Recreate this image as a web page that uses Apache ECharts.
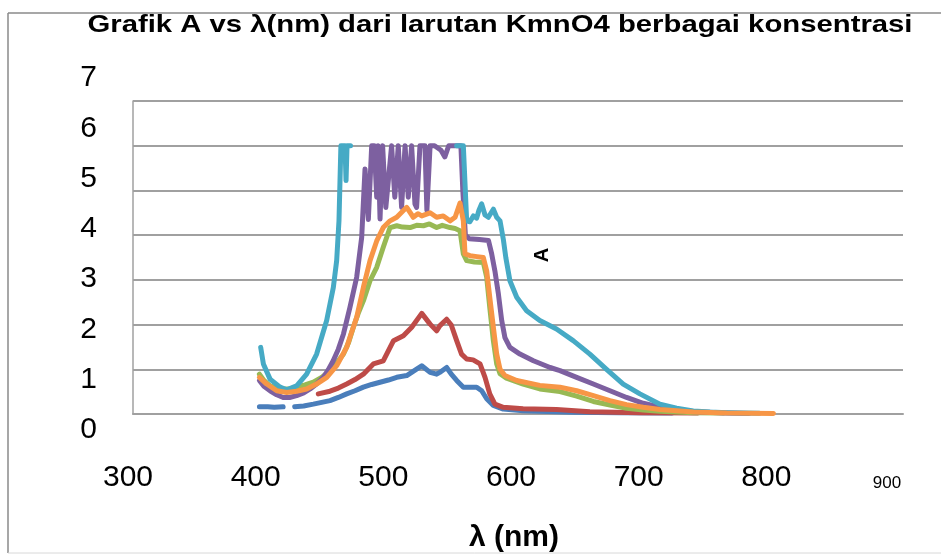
<!DOCTYPE html>
<html><head><meta charset="utf-8">
<script src="https://cdn.jsdelivr.net/npm/echarts@6/dist/echarts.min.js"></script>
<style>html,body{margin:0;padding:0;background:#fff}#c{width:941px;height:556px}</style>
</head><body><div id="c"></div><script>
// wavelength ticks and absorbance ticks
const xTicks = [300, 400, 500, 600, 700, 800, 900];
const yTicks = [0, 1, 2, 3, 4, 5, 6, 7];
const seriesNames = ['s1', 's2', 's3', 's4', 's5', 's6'];

// [lambda (nm), A]
const blue = [[398.5,0.16],[405,0.16],[410,0.15],[417,0.16],[421,null],[426,0.16],[433,0.18],[440.5,0.22],[447,0.26],[453.5,0.3],[460,0.37],[466.5,0.45],[473,0.52],[479.5,0.6],[486,0.66],[492.5,0.71],[499,0.76],[505.5,0.82],[513.3,0.86],[519.8,0.98],[525,1.08],[531.5,0.93],[536.6,0.89],[539,0.93],[544.4,1.04],[548,0.89],[552.2,0.75],[557.4,0.6],[562.6,0.6],[567.8,0.6],[571.7,0.52],[575.6,0.34],[580.8,0.19],[588.5,0.11],[604,0.07],[643,0.04],[680,0.03],[720,0.02]];
const red = [[444.4,0.45],[453.5,0.51],[460,0.58],[466.5,0.67],[473,0.77],[479.5,0.89],[487.3,1.12],[495,1.19],[503,1.64],[510.7,1.75],[517.2,1.94],[525,2.25],[531.5,2.01],[536.6,1.86],[539,1.97],[544.4,2.12],[548,1.99],[552.2,1.64],[556,1.34],[560,1.23],[565,1.21],[570.4,1.12],[574.3,0.82],[578,0.45],[582,0.22],[588.5,0.15],[604,0.12],[630,0.1],[656,0.05],[695,0.03],[740,0.02]];
const green = [[398.5,0.89],[402,0.75],[406.8,0.63],[412,0.58],[417,0.56],[422,0.56],[427.5,0.6],[434,0.65],[440.5,0.71],[447,0.82],[453.5,0.97],[459,1.15],[464,1.34],[468,1.6],[471.7,1.94],[475.5,2.25],[479.5,2.53],[484.7,2.98],[489.9,3.28],[495,3.73],[500.3,4.17],[505.5,4.21],[510,4.18],[515.9,4.17],[521,4.22],[526.3,4.21],[531,4.25],[536.6,4.17],[541,4.22],[547,4.17],[551,4.15],[554.8,4.1],[557.4,3.58],[560,3.43],[566,3.4],[573,3.39],[575.6,3.06],[578,2.38],[580.8,1.64],[583.4,1.12],[586,0.9],[591,0.8],[604,0.67],[617,0.56],[632.7,0.5],[645.7,0.4],[658.7,0.28],[671.7,0.2],[684.6,0.13],[697.6,0.09],[710.6,0.06],[736.6,0.03],[760,0.02]];
const purple = [[398.5,0.75],[402,0.62],[406.8,0.52],[412,0.43],[417,0.37],[422,0.37],[427.5,0.41],[433,0.47],[438,0.56],[443,0.67],[448.3,0.82],[452,0.98],[456,1.19],[460,1.45],[464,1.79],[469,2.38],[474.3,3.06],[478.2,3.95],[480.8,5.48],[483.4,4.35],[486,6.0],[488,6.0],[489.9,4.85],[491,6.0],[492.5,4.36],[494.5,6.0],[497,4.62],[501.5,6.0],[504,4.85],[506.7,6.0],[509.3,4.62],[512,6.0],[514.5,4.85],[517.1,6.0],[519.7,4.7],[521,4.62],[523.6,6.0],[527.5,6.0],[529,4.55],[531.5,6.0],[535,6.0],[540,5.9],[543,5.75],[546,6.0],[552,6.0],[555.5,6.0],[557,5.0],[559,4.0],[562,3.92],[570,3.9],[577,3.88],[579.5,3.58],[582,3.2],[584.7,2.69],[587.3,2.09],[589.8,1.71],[593.7,1.49],[601.5,1.34],[612,1.19],[625,1.04],[632.7,0.97],[645.7,0.82],[658.7,0.67],[671.7,0.52],[684.6,0.37],[697.6,0.24],[710.6,0.15],[723.6,0.09],[736.6,0.05],[762.6,0.02],[780,0.01]];
const teal = [[399.5,1.49],[401.6,1.12],[406.8,0.78],[414.6,0.6],[419.8,0.54],[427.5,0.63],[435.3,0.89],[443.1,1.34],[450.9,2.09],[456.1,2.83],[458.7,3.43],[460.5,4.32],[461.3,5.22],[462,6.0],[465.2,6.0],[466,5.22],[466.8,6.0],[469.5,6.0],[471,null],[551,null],[552.2,6.0],[557.4,6.0],[560,4.32],[562.5,4.3],[565.2,4.43],[567.8,4.38],[569.5,4.55],[571.7,4.7],[574.3,4.45],[576.9,4.4],[580.8,4.58],[583.4,4.4],[586,4.32],[588.6,3.9],[590.5,3.5],[593.7,2.98],[599,2.61],[606.7,2.31],[617,2.09],[630,1.9],[643,1.64],[656,1.34],[669,1.0],[682,0.67],[695,0.45],[710.6,0.22],[723.6,0.13],[736.6,0.07],[749.6,0.045],[762.6,0.03],[788,0.015]];
const orange = [[398.5,0.82],[404.2,0.67],[412,0.52],[419.8,0.48],[427.5,0.51],[435.3,0.56],[443,0.67],[451,0.82],[458.7,1.08],[466.5,1.49],[470,1.8],[474.3,2.16],[479.5,2.83],[484.7,3.43],[489.9,3.87],[495,4.17],[500.3,4.32],[505.5,4.4],[510.7,4.55],[513.3,4.62],[518.4,4.4],[522,4.48],[525,4.43],[531.5,4.5],[536.6,4.4],[541.8,4.43],[547,4.32],[551,4.4],[554.8,4.72],[557.4,4.32],[558.7,3.58],[562.6,3.54],[568,3.52],[573,3.5],[575.6,3.2],[578,2.61],[580.8,1.94],[583.4,1.34],[586,1.0],[589.8,0.86],[599,0.75],[617,0.64],[632.7,0.6],[645.7,0.52],[658.7,0.41],[671.7,0.3],[684.6,0.21],[697.6,0.15],[710.6,0.1],[736.6,0.045],[762.6,0.02],[799,0.01]];

const dataSets = [blue, red, green, purple, teal, orange];
const colors = ['#4A7EBB', '#BE4B48', '#98B954', '#7D60A0', '#46AAC5', '#F79646'];

const chart = echarts.init(document.getElementById('c'), null, {renderer: 'canvas'});
const FF = '"Liberation Sans", Arial, sans-serif';
chart.setOption({
  animation: false,
  backgroundColor: '#fff',
  grid: [
    {left: 133, right: 38, top: 101, bottom: 142},
    {left: 128, right: 47, top: 78, bottom: 126}
  ],
  xAxis: [
    {gridIndex: 0, type: 'value', min: xTicks[0], max: xTicks[xTicks.length-1], interval: 100,
     axisLine: {show: true, lineStyle: {color: '#a0a0a0', width: 2}}, axisTick: {show: false},
     axisLabel: {show: false}, splitLine: {show: false}},
    {gridIndex: 1, type: 'value', min: xTicks[0], max: xTicks[xTicks.length-1], interval: 100,
     axisLine: {show: false}, axisTick: {show: false}, splitLine: {show: false},
     axisLabel: {margin: 33, fontSize: 30, color: '#000', fontFamily: FF,
       formatter: v => v === 900 ? '{s|900}' : String(v),
       rich: {s: {fontSize: 17, fontFamily: FF, color: '#000', padding: [12, 14, 0, 0]}}}}
  ],
  yAxis: [
    {gridIndex: 0, type: 'value', min: yTicks[0], max: yTicks[yTicks.length-1], interval: 1,
     axisLine: {show: true, lineStyle: {color: '#a0a0a0', width: 1.5}}, axisTick: {show: false},
     axisLabel: {show: false}, splitLine: {show: true, lineStyle: {color: '#a0a0a0', width: 2}}},
    {gridIndex: 1, type: 'value', min: yTicks[0], max: yTicks[yTicks.length-1], interval: 1,
     axisLine: {show: false}, axisTick: {show: false}, splitLine: {show: false},
     axisLabel: {margin: 31, fontSize: 30, color: '#000', fontFamily: FF}}
  ],
  series: dataSets.map((d, i) => ({
    name: seriesNames[i], type: 'line', xAxisIndex: 0, yAxisIndex: 0,
    data: d, showSymbol: false, connectNulls: false,
    lineStyle: {color: colors[i], width: 5, join: 'round', cap: 'round'}, itemStyle: {color: colors[i]}
  })),
  graphic: [
    {type: 'line', z: -1, shape: {x1: 8, y1: 13, x2: 941, y2: 13}, style: {stroke: '#8a8a8a', lineWidth: 1.5}},
    {type: 'line', z: -1, shape: {x1: 8, y1: 13, x2: 8, y2: 553}, style: {stroke: '#8a8a8a', lineWidth: 1.5}},
    {type: 'line', z: -1, shape: {x1: 8, y1: 553, x2: 941, y2: 553}, style: {stroke: '#d8d8d8', lineWidth: 1}},
    {type: 'text', x: 500, y: 13, scaleX: 1.22, style: {text: 'Grafik A vs λ(nm) dari larutan KmnO4 berbagai konsentrasi',
      align: 'center', verticalAlign: 'top', font: 'bold 24px ' + FF, fill: '#000'}},
    {type: 'text', x: 514, y: 538, style: {text: 'λ (nm)', align: 'center', verticalAlign: 'middle',
      font: 'bold 30px ' + FF, fill: '#000'}},
    {type: 'text', x: 542, y: 255, rotation: Math.PI / 2, style: {text: 'A', align: 'center', verticalAlign: 'middle',
      font: 'bold 20px ' + FF, fill: '#000'}}
  ]
});
</script></body></html>
